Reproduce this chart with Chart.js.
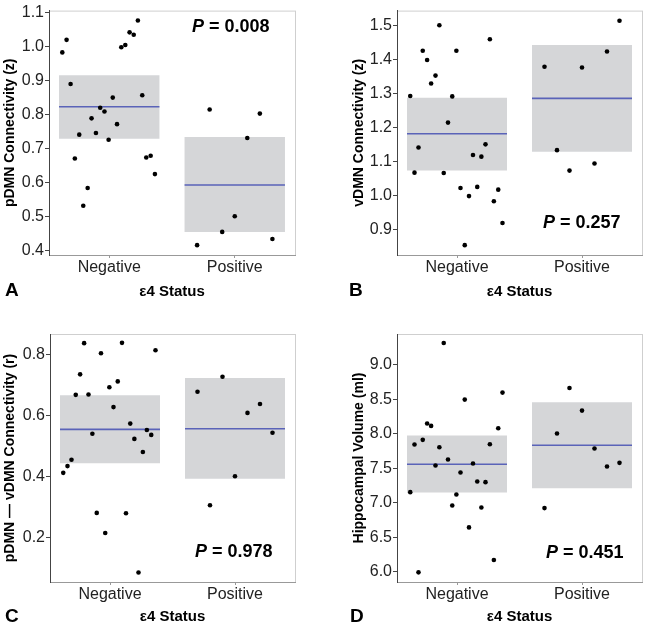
<!DOCTYPE html>
<html>
<head>
<meta charset="utf-8">
<script src="https://cdn.jsdelivr.net/npm/chart.js@4/dist/chart.umd.min.js"></script>
<style>
body{margin:0;background:#fff;width:646px;height:624px;overflow:hidden;position:relative;font-family:"Liberation Sans",Arial,sans-serif;}
canvas{position:absolute;}
.lbl{position:absolute;font-weight:bold;font-size:18px;line-height:18px;color:#000;white-space:nowrap;}
</style>
</head>
<body>
<canvas id="cA" width="323" height="312" style="left:0;top:0"></canvas>
<canvas id="cB" width="323" height="312" style="left:323px;top:0"></canvas>
<canvas id="cC" width="323" height="312" style="left:0;top:312px"></canvas>
<canvas id="cD" width="323" height="312" style="left:323px;top:312px"></canvas>
<div class="lbl" style="left:5px;top:281px;font-size:19px">A</div>
<div class="lbl" style="left:349px;top:281px;font-size:19px">B</div>
<div class="lbl" style="left:5px;top:607px;font-size:19px">C</div>
<div class="lbl" style="left:350px;top:607px;font-size:19px">D</div>
<div class="lbl" style="left:192px;top:17px"><i>P</i> = 0.008</div>
<div class="lbl" style="left:543px;top:213px"><i>P</i> = 0.257</div>
<div class="lbl" style="left:195px;top:542px"><i>P</i> = 0.978</div>
<div class="lbl" style="left:546px;top:543px"><i>P</i> = 0.451</div>
<script>
var groups = ['Negative','Positive'];
// horizontal jitter of the dots inside each group
var negJitter = [-0.374,-0.340,-0.308,-0.274,-0.239,-0.207,-0.172,-0.141,-0.106,-0.072,-0.038,-0.005,0.028,0.062,0.096,0.128,0.162,0.195,0.228,0.263,0.295,0.330,0.364];
var posJitter = [-0.30,-0.20,-0.10,0.00,0.10,0.20,0.30];

// A  pDMN
var aNeg = [0.984,1.021,0.891,0.672,0.742,0.533,0.585,0.790,0.747,0.821,0.810,0.727,0.851,0.773,0.999,1.006,1.043,1.036,1.078,0.858,0.675,0.680,0.626];
var aPos = [0.417,0.816,0.456,0.502,0.732,0.804,0.435];
var aBoxLo = [0.730,0.456];
var aBoxHi = [0.917,0.735];
var aMean = [0.824,0.594];
var aTicks = [0.4,0.5,0.6,0.7,0.8,0.9,1.0,1.1];

// B  vDMN
var bNeg = [1.292,1.067,1.141,1.425,1.398,1.329,1.352,1.500,1.066,1.214,1.291,1.425,1.022,0.854,0.998,1.119,1.025,1.114,1.150,1.459,0.983,1.017,0.919];
var bPos = [1.378,1.133,1.073,1.376,1.094,1.423,1.513];
var bBoxLo = [1.073,1.128];
var bBoxHi = [1.287,1.442];
var bMean = [1.181,1.285];
var bTicks = [0.9,1.0,1.1,1.2,1.3,1.4,1.5];

// C  pDMN -- vDMN
var cNeg = [0.412,0.434,0.455,0.667,0.734,0.836,0.668,0.540,0.281,0.803,0.215,0.692,0.627,0.711,0.837,0.280,0.573,0.523,0.086,0.480,0.552,0.536,0.813];
var cPos = [0.677,0.306,0.726,0.401,0.608,0.637,0.543];
var cBoxLo = [0.443,0.393];
var cBoxHi = [0.666,0.722];
var cMean = [0.554,0.556];
var cTicks = [0.2,0.4,0.6,0.8];

// D  hippocampal volume
var dNeg = [7.157,7.847,5.995,7.915,8.151,8.117,7.543,7.808,9.318,7.630,6.964,7.124,7.442,8.498,6.646,7.572,7.312,6.935,7.302,7.852,6.173,8.083,8.600];
var dPos = [6.926,8.006,8.667,8.339,7.789,7.529,7.582];
var dBoxLo = [7.152,7.215];
var dBoxHi = [7.977,8.460];
var dMean = [7.562,7.837];
var dTicks = [6.0,6.5,7.0,7.5,8.0,8.5,9.0];

var FONT = '"Liberation Sans", Arial, sans-serif';
var HALF = 0.4;

var framePlugin = {
  id: 'frame',
  beforeDraw: function(chart){
    var a = chart.chartArea, ctx = chart.ctx;
    ctx.save();
    ctx.strokeStyle = '#cfcfcf';
    ctx.lineWidth = 1;
    ctx.strokeRect(a.left + 0.5, a.top + 0.5, a.right - a.left, a.bottom - a.top);
    ctx.restore();
  }
};

function dots(neg, pos){
  var out = [];
  neg.forEach(function(v,i){ out.push({x: 1 + negJitter[i], y: v}); });
  pos.forEach(function(v,i){ out.push({x: 2 + posJitter[i], y: v}); });
  return out;
}

function makePanel(id, p){
  var boxes = p.lo.map(function(lo,i){ return {x: i+1, y: [lo, p.hi[i]]}; });
  var means = [];
  p.mean.forEach(function(m,i){
    if (i > 0) means.push({x: i + 0.5, y: null});
    means.push({x: i+1-HALF, y: m});
    means.push({x: i+1+HALF, y: m});
  });
  new Chart(document.getElementById(id), {
    type: 'scatter',
    data: {
      datasets: [
        {type:'bar', data: boxes, backgroundColor:'#d5d6d8', borderWidth:0,
         categoryPercentage:1, barPercentage:0.8, order:3},
        {type:'line', data: means, borderColor:'#5a63b8', borderWidth:1.6,
         pointRadius:0, spanGaps:false, fill:false, order:2},
        {type:'scatter', data: dots(p.neg, p.pos), backgroundColor:'#000', borderWidth:0,
         pointRadius:2.3, order:1}
      ]
    },
    options: {
      responsive:false, animation:false, events:[],
      layout:{padding:{left:p.padL, right:p.padR, top:p.padT, bottom:0}},
      plugins:{legend:{display:false}, tooltip:{enabled:false}},
      scales:{
        x:{
          type:'linear', min:0.52, max:2.48, offset:false,
          afterBuildTicks:function(s){ s.ticks = [{value:1},{value:2}]; },
          afterFit:function(s){ s.height = p.xh; },
          ticks:{callback:function(v){ return groups[v-1]; }, color:'#222',
                 font:{size:16, family:FONT}, padding:0, autoSkip:false, maxRotation:0},
          grid:{drawOnChartArea:false, offset:false, tickLength:3, color:'#999'},
          border:{color:'#999'},
          title:{display:true, text:'\u03b54 Status', color:'#000',
                 font:{size:15, weight:'bold', family:FONT, lineHeight:1},
                 padding:{top:0, bottom:p.xtPad}}
        },
        y:{
          type:'linear', min:p.min, max:p.max,
          afterBuildTicks:function(s){ s.ticks = p.ticks.map(function(v){ return {value:v}; }); },
          afterFit:function(s){ s.width = p.yw; },
          ticks:{callback:function(v){ return v.toFixed(1); }, color:'#222',
                 font:{size:16, family:FONT}, padding:1},
          grid:{drawOnChartArea:false, tickLength:4, color:'#444'},
          border:{color:'#444'},
          title:{display:true, text:p.title, color:'#000',
                 font:{size:14, weight:'bold', family:FONT},
                 padding:{top:2, bottom:0}}
        }
      }
    },
    plugins:[framePlugin]
  });
}

makePanel('cA', {neg:aNeg, pos:aPos, lo:aBoxLo, hi:aBoxHi, mean:aMean, ticks:aTicks,
  min:0.388, max:1.107, title:'pDMN Connectivity (z)',
  padL:0, padR:28, padT:5, yw:49, xh:57, xtPad:13});
makePanel('cB', {neg:bNeg, pos:bPos, lo:bBoxLo, hi:bBoxHi, mean:bMean, ticks:bTicks,
  min:0.825, max:1.543, title:'vDMN Connectivity (z)',
  padL:26, padR:1, padT:5, yw:48, xh:57, xtPad:13});
makePanel('cC', {neg:cNeg, pos:cPos, lo:cBoxLo, hi:cBoxHi, mean:cMean, ticks:cTicks,
  min:0.055, max:0.866, title:'pDMN \u2014 vDMN Connectivity (r)',
  padL:0, padR:28, padT:22, yw:50, xh:42, xtPad:0});
makePanel('cD', {neg:dNeg, pos:dPos, lo:dBoxLo, hi:dBoxHi, mean:dMean, ticks:dTicks,
  min:5.855, max:9.449, title:'Hippocampal Volume (ml)',
  padL:26, padR:1, padT:22, yw:48, xh:42, xtPad:0});
</script>
</body>
</html>
